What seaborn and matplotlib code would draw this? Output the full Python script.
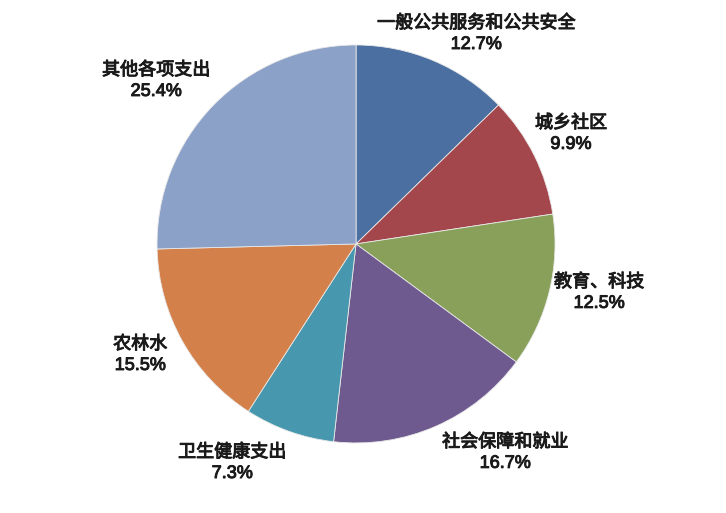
import matplotlib
matplotlib.use('Agg')
import matplotlib.pyplot as plt
import matplotlib.patheffects as pe
import seaborn as sns

sns.set_theme(style='white')
plt.rcParams['font.family'] = ['Liberation Sans', 'Noto Sans CJK SC', 'DejaVu Sans']

# data
CATEGORIES = ['一般公共服务和公共安全', '城乡社区', '教育、科技', '社会保障和就业',
              '卫生健康支出', '农林水', '其他各项支出']
SHARES = [12.7, 9.9, 12.5, 16.7, 7.3, 15.5, 25.4]
COLORS = ['#4A6FA0', '#A4474D', '#88A05A', '#6E5A8F', '#4798AE', '#D3804A', '#8CA1C8']

# label centres in pie units (radius = 1)
LABEL_XY = [(0.603, 1.055), (1.080, 0.553), (1.221, -0.246), (0.749, -1.050),
            (-0.623, -1.101), (-1.085, -0.558), (-1.005, 0.819)]

fig = plt.figure(figsize=(7.26, 5.13), dpi=100)
ax = fig.add_axes([0, 0, 1, 1])

palette = sns.color_palette(COLORS)
ax.pie(SHARES, colors=palette, startangle=90, counterclock=False,
       radius=1.0, wedgeprops=dict(edgecolor='#e8e8e8', linewidth=0.6))

# slight stroke gives the semi-bold look of the original print
thick = [pe.withStroke(linewidth=0.7, foreground='#1a1a1a')]
for name, val, (x, y) in zip(CATEGORIES, SHARES, LABEL_XY):
    ax.text(x, y, f'{name}\n{val:.1f}%', ha='center', va='center',
            fontsize=13, color='#1a1a1a', linespacing=1.3, path_effects=thick)

ax.set_xlim(-1.789, 1.859)
ax.set_ylim(-1.352, 1.226)
ax.set_aspect('equal')
ax.axis('off')

fig.savefig('out.png', dpi=100)
